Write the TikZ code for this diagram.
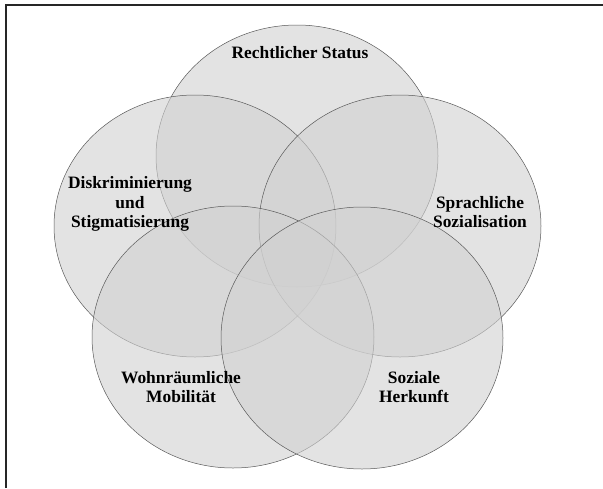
\documentclass[tikz,border=0pt]{standalone}
\usepackage{fontspec}
\setmainfont{Liberation Serif}
\usetikzlibrary{positioning}
\definecolor{setgray}{RGB}{209,209,209}
\begin{document}
\begin{tikzpicture}[x=1pt,y=-1pt,
 set/.style={draw=black!65,line width=0.5pt,fill=setgray,fill opacity=0.6},
 lbl/.style={align=center,inner sep=0pt,
   font=\fontsize{17.4}{19.5}\selectfont\bfseries}]
 \useasboundingbox (0,0) rectangle (603,488);
 \draw[line width=2pt,black!85] (5.5,488) |- (603,4.5);
 \foreach \cx/\cy in {297/156,195/226,400/226,233/337,362/338}
   \draw[set] (\cx,\cy) ellipse [x radius=141,y radius=131];
 \node[lbl] (status) at (300,53) {Rechtlicher Status};
 \node[lbl] (diskr) at (130,204) {Diskriminierung\\und\\Stigmatisierung};
 \node[lbl] (sprache) at (480,212) {Sprachliche\\Sozialisation};
 \node[lbl] (wohnen) at (181,387) {Wohnräumliche\\Mobilität};
 \node[lbl] (herkunft) at (414,387) {Soziale\\Herkunft};
\end{tikzpicture}
\end{document}
